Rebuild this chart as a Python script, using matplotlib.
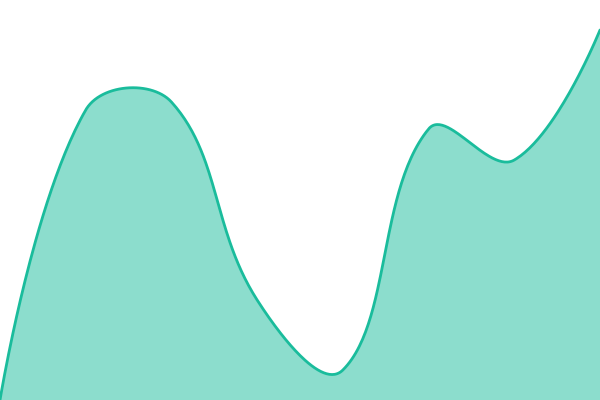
import matplotlib
matplotlib.use("Agg")
import matplotlib.pyplot as plt
import numpy as np

# values (0 = bottom edge, 400 = top edge)
values = [0, 290, 298, 100, 30, 271, 240, 370]
labels = list(range(len(values)))

LINE = "#1abc9c"
W, H = 600, 400


def spline_path(xs, ys, tension=0.4, n=60):
    # Chart.js style bezier smoothing, done in pixel space
    pts = np.column_stack([xs, ys]).astype(float)
    m = len(pts)
    c_prev = pts.copy()
    c_next = pts.copy()
    for i in range(1, m - 1):
        p0, p1, p2 = pts[i - 1], pts[i], pts[i + 1]
        d01 = np.hypot(*(p1 - p0))
        d12 = np.hypot(*(p2 - p1))
        s01 = d01 / (d01 + d12)
        s12 = d12 / (d01 + d12)
        c_prev[i] = p1 - tension * s01 * (p2 - p0)
        c_next[i] = p1 + tension * s12 * (p2 - p0)
    c_prev[:, 0] = np.clip(c_prev[:, 0], 0, W)
    c_next[:, 0] = np.clip(c_next[:, 0], 0, W)
    c_prev[:, 1] = np.clip(c_prev[:, 1], 0, H)
    c_next[:, 1] = np.clip(c_next[:, 1], 0, H)
    t = np.linspace(0, 1, n)[:, None]
    out = []
    for i in range(m - 1):
        a, b, c, d = pts[i], c_next[i], c_prev[i + 1], pts[i + 1]
        seg = ((1 - t) ** 3) * a + 3 * ((1 - t) ** 2) * t * b + 3 * (1 - t) * t ** 2 * c + t ** 3 * d
        out.append(seg if i == 0 else seg[1:])
    out = np.vstack(out)
    return out[:, 0], out[:, 1]


step = W / (len(values) - 1)
xs = np.array(labels) * step
sx, sy = spline_path(xs, values)

fig = plt.figure(figsize=(6, 4), dpi=100)
ax = fig.add_axes([0, 0, 1, 1])
ax.fill_between(sx, sy, 0, color=LINE, alpha=0.5, linewidth=0)
ax.plot(sx, sy, color=LINE, linewidth=2.0, solid_capstyle="round")
ax.set_xlim(0, W)
ax.set_ylim(0, H)
ax.axis("off")

fig.savefig("out.png", dpi=100)
